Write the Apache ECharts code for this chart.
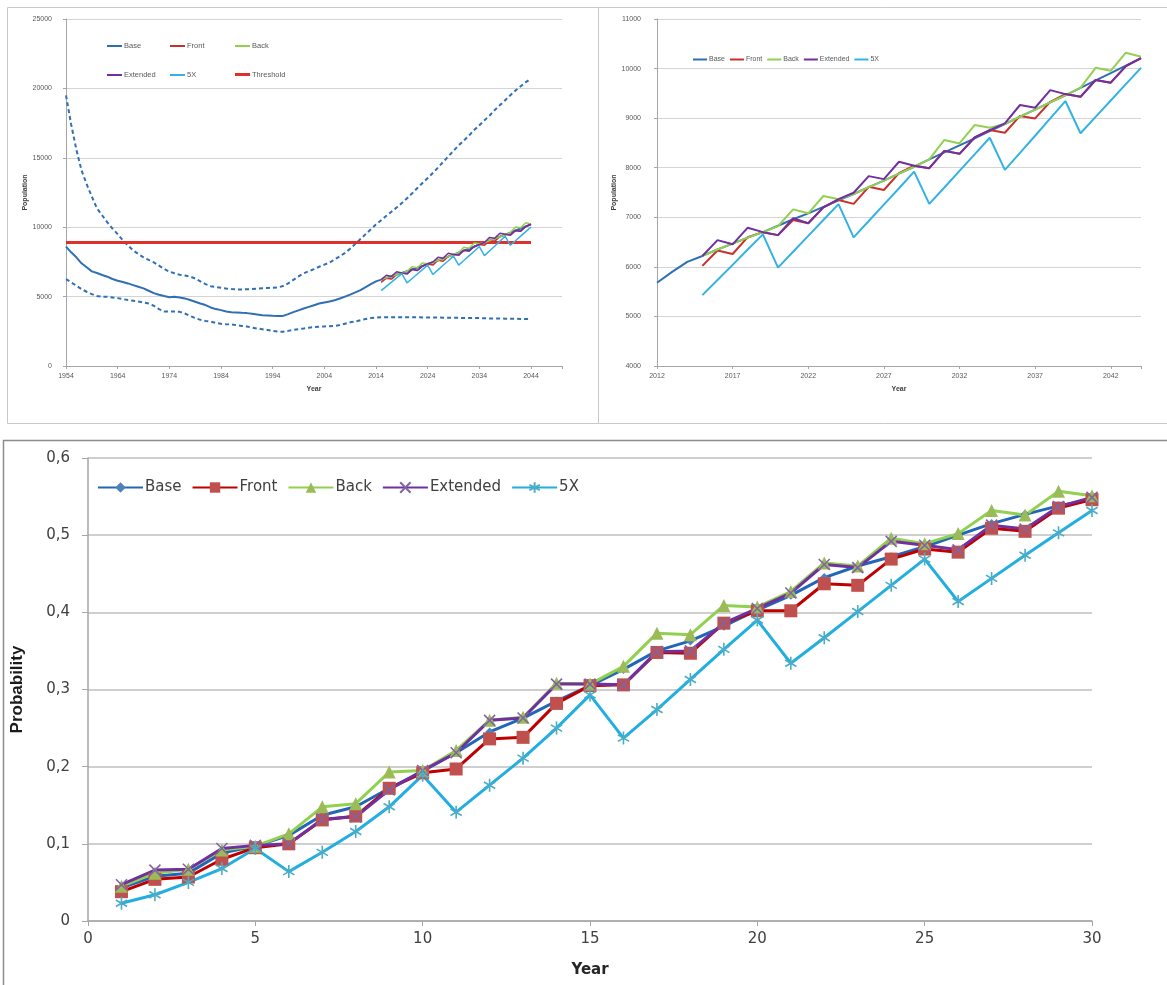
<!DOCTYPE html>
<html>
<head>
<meta charset="utf-8">
<script src="https://cdn.jsdelivr.net/npm/echarts@6/dist/echarts.min.js"></script>
<style>
  html, body { margin: 0; padding: 0; background: #ffffff; width: 1167px; height: 985px; overflow: hidden; }
  .layer { position: absolute; left: 0; top: 0; width: 1167px; height: 985px; }
</style>
</head>
<body>
<div id="history" class="layer"></div>
<div id="projection" class="layer"></div>
<div id="probability" class="layer"></div>
<script>
// ---------- Population history and projection (1954–2044) ----------
const HIST_START = 1954;      // first year of the long population series
const PROJ_START = 2015;      // first year of the scenario projections
const ZOOM_START = 2012;      // first year of the zoomed-in projection panel
const thresholdValue = 8900;

// Base population 1954–2011
const histBase = [
  8600, 8190, 7830, 7400, 7110, 6820, 6700, 6555, 6435, 6270,
  6145, 6050, 5950, 5830, 5710, 5590, 5420, 5250, 5130, 5040,
  4960, 4990, 4940, 4870, 4750, 4630, 4500, 4390, 4220, 4100,
  4025, 3930, 3880, 3860, 3830, 3810, 3760, 3710, 3660, 3640,
  3615, 3600, 3610, 3740, 3880, 4010, 4140, 4260, 4380, 4500,
  4580, 4650, 4740, 4860, 5000, 5140, 5300, 5470
];

// Upper confidence bound 1954–2044
const histUpper = [
  19500, 17400, 15600, 14100, 13100, 12200, 11350, 10850, 10350, 9900,
  9500, 9050, 8680, 8320, 8070, 7830, 7640, 7470, 7230, 6990,
  6800, 6680, 6580, 6520, 6450, 6300, 6100, 5900, 5750, 5680,
  5640, 5580, 5540, 5520, 5520, 5530, 5550, 5570, 5600, 5620,
  5640, 5660, 5760, 5950, 6200, 6450, 6680, 6830, 6980, 7150,
  7300, 7450, 7680, 7900, 8150, 8450, 8800, 9150, 9500, 9850,
  10200, 10500, 10820, 11120, 11420, 11740, 12080, 12440, 12820, 13180,
  13540, 13900, 14300, 14700, 15100, 15500, 15900, 16250, 16600, 17000,
  17350, 17700, 18050, 18450, 18800, 19150, 19500, 19850, 20150, 20450,
  20700
];

// Lower confidence bound 1954–2044
const histLower = [
  6265, 6025, 5785, 5540, 5350, 5180, 5040, 4990, 4990, 4940,
  4890, 4820, 4750, 4700, 4650, 4580, 4500, 4340, 4100, 3930,
  3930, 3930, 3900, 3780, 3615, 3450, 3325, 3250, 3200, 3110,
  3040, 3010, 2990, 2940, 2890, 2845, 2770, 2700, 2650, 2600,
  2530, 2480, 2460, 2530, 2600, 2650, 2700, 2760, 2800, 2820,
  2850, 2870, 2890, 2950, 3050, 3150, 3200, 3300, 3380, 3450,
  3500, 3510, 3520, 3520, 3520, 3520, 3520, 3510, 3510, 3500,
  3500, 3490, 3490, 3480, 3480, 3470, 3470, 3460, 3460, 3450,
  3450, 3440, 3430, 3430, 3420, 3410, 3410, 3400, 3390, 3390,
  3380
];

// Base projection 2012–2044
const projBase = [
  5680, 5900, 6100, 6220, 6350, 6470, 6590, 6700, 6830, 6960,
  7080, 7210, 7340, 7470, 7610, 7740, 7880, 8020, 8170, 8310,
  8450, 8590, 8740, 8880, 9030, 9170, 9320, 9460, 9610, 9760,
  9910, 10060, 10210
];

// Scenario projections 2015–2044
const projFront = [
  6020, 6330, 6260, 6600, 6700, 6640, 6945, 6880, 7200, 7350,
  7270, 7615, 7550, 7890, 8040, 7990, 8340, 8280, 8610, 8760,
  8705, 9045, 8995, 9330, 9485, 9430, 9770, 9715, 10050, 10210
];
const projBack = [
  6220, 6350, 6470, 6590, 6700, 6820, 7160, 7080, 7430, 7365,
  7470, 7610, 7740, 7880, 8020, 8170, 8560, 8490, 8860, 8805,
  8880, 9030, 9170, 9320, 9460, 9610, 10015, 9955, 10320, 10240
];
const projExtended = [
  6220, 6540, 6455, 6790, 6700, 6640, 6980, 6880, 7200, 7365,
  7495, 7830, 7770, 8120, 8040, 7990, 8340, 8280, 8610, 8760,
  8895, 9265, 9210, 9565, 9485, 9430, 9770, 9715, 10050, 10210
];
const proj5X = [
  5430, 5735, 6040, 6350, 6655, 5985, 6305, 6625, 6945, 7265,
  6595, 6925, 7255, 7585, 7920, 7270, 7600, 7935, 8270, 8605,
  7955, 8300, 8645, 8995, 9345, 8695, 9025, 9355, 9685, 10015
];

// ---------- Probability of exceeding the threshold, by year ----------
const probYears = [1, 2, 3, 4, 5, 6, 7, 8, 9, 10, 11, 12, 13, 14, 15,
                   16, 17, 18, 19, 20, 21, 22, 23, 24, 25, 26, 27, 28, 29, 30];
const probBase = [
  0.043, 0.058, 0.062, 0.088, 0.097, 0.111, 0.137, 0.148, 0.172, 0.194,
  0.218, 0.245, 0.263, 0.285, 0.305, 0.326, 0.350, 0.363, 0.382, 0.403,
  0.422, 0.445, 0.460, 0.472, 0.485, 0.500, 0.515, 0.527, 0.538, 0.546
];
const probFront = [
  0.038, 0.054, 0.057, 0.080, 0.095, 0.100, 0.131, 0.136, 0.172, 0.192,
  0.197, 0.236, 0.238, 0.282, 0.305, 0.306, 0.348, 0.347, 0.386, 0.402,
  0.402, 0.437, 0.435, 0.469, 0.482, 0.478, 0.509, 0.505, 0.535, 0.546
];
const probBack = [
  0.045, 0.062, 0.067, 0.092, 0.097, 0.113, 0.148, 0.152, 0.193, 0.195,
  0.221, 0.260, 0.264, 0.308, 0.307, 0.330, 0.373, 0.371, 0.409, 0.407,
  0.427, 0.464, 0.460, 0.496, 0.489, 0.502, 0.532, 0.526, 0.557, 0.551
];
const probExtended = [
  0.047, 0.066, 0.067, 0.094, 0.098, 0.100, 0.132, 0.135, 0.170, 0.195,
  0.218, 0.260, 0.263, 0.307, 0.307, 0.306, 0.349, 0.350, 0.386, 0.405,
  0.425, 0.462, 0.458, 0.492, 0.487, 0.481, 0.513, 0.508, 0.537, 0.549
];
const prob5X = [
  0.023, 0.034, 0.050, 0.068, 0.094, 0.064, 0.089, 0.116, 0.148, 0.189,
  0.141, 0.176, 0.211, 0.250, 0.293, 0.237, 0.274, 0.313, 0.352, 0.390,
  0.334, 0.367, 0.401, 0.435, 0.469, 0.414, 0.444, 0.474, 0.503, 0.532
];

// Year series are placed on an axis counted from its first labelled year
function pairs(values, firstYear, origin) {
  return values.map((v, i) => [firstYear + i - origin, v]);
}

const COL = {
  base: '#2F6FB4', front: '#C8302A', back: '#92D050', extended: '#7030A0', fiveX: '#33B2E3', threshold: '#E0302C'
};
const smallText = { fontFamily: 'Liberation Sans', fontSize: 7, color: '#595959' };
const grayAxis = { lineStyle: { color: '#A6A6A6', width: 1 } };
const plainNumber = v => String(v);

function plainLine(name, data, color, width, dash) {
  return {
    name: name, type: 'line', symbol: 'none', data: data, color: color,
    lineStyle: { color: color, width: width, type: dash || 'solid' }
  };
}

// ===== Panel 1: full history with bounds =====
const histChart = echarts.init(document.getElementById('history'), null, { renderer: 'canvas' });
const baseAll = histBase.concat(projBase);
function legendItem(name, left, top, height) {
  return {
    data: [name], left: left, top: top, padding: 0, icon: 'rect', itemWidth: 15, itemHeight: height || 2,
    textStyle: Object.assign({}, smallText, { fontSize: 7.5, padding: [0, 0, 0, -3] }),
    selectedMode: false
  };
}
histChart.setOption({
  animation: false,
  graphic: [
    { type: 'rect', shape: { x: 7.5, y: 7.5, width: 591, height: 416 },
      style: { fill: 'none', stroke: '#C9C9C9', lineWidth: 1 }, silent: true },
    { type: 'rect', shape: { x: 598.5, y: 7.5, width: 600, height: 416 },
      style: { fill: 'none', stroke: '#C9C9C9', lineWidth: 1 }, silent: true }
  ],
  legend: [
    legendItem('Base', 107, 42), legendItem('Front', 170, 42), legendItem('Back', 235, 42),
    legendItem('Extended', 107, 71), legendItem('5X', 170, 71), legendItem('Threshold', 235, 70.5, 3)
  ],
  grid: { left: 66, top: 19, width: 496, height: 347 },
  xAxis: {
    type: 'value', min: 0, max: 96, interval: 10,
    name: 'Year', nameLocation: 'middle', nameGap: 20,
    nameTextStyle: Object.assign({}, smallText, { fontWeight: 'bold', color: '#404040' }),
    axisLine: grayAxis, axisTick: { show: true, length: 3, lineStyle: { color: '#A6A6A6' } },
    axisLabel: Object.assign({}, smallText, { margin: 7, formatter: v => (v % 10 === 0 ? String(v + HIST_START) : '') }),
    splitLine: { show: false }
  },
  yAxis: {
    type: 'value', min: 0, max: 25000, interval: 5000,
    name: 'Population', nameLocation: 'middle', nameGap: 31,
    nameTextStyle: Object.assign({}, smallText, { fontWeight: 'bold', color: '#404040' }),
    axisLine: Object.assign({ show: true }, grayAxis), axisTick: { show: true, length: 3, lineStyle: { color: '#A6A6A6' } },
    axisLabel: Object.assign({}, smallText, { margin: 14, formatter: plainNumber }),
    splitLine: { lineStyle: { color: '#D4D4D4', width: 1 } }
  },
  series: [
    plainLine('Upper bound', pairs(histUpper, HIST_START, HIST_START), COL.base, 2, [4, 3]),
    plainLine('Lower bound', pairs(histLower, HIST_START, HIST_START), COL.base, 2, [4, 3]),
    plainLine('Base', pairs(baseAll, HIST_START, HIST_START), COL.base, 2),
    plainLine('Threshold', [[0, thresholdValue], [2044 - HIST_START, thresholdValue]], COL.threshold, 3),
    plainLine('Front', pairs(projFront, PROJ_START, HIST_START), COL.front, 1.5),
    plainLine('Back', pairs(projBack, PROJ_START, HIST_START), COL.back, 1.5),
    plainLine('Extended', pairs(projExtended, PROJ_START, HIST_START), COL.extended, 1.5),
    plainLine('5X', pairs(proj5X, PROJ_START, HIST_START), COL.fiveX, 1.5)
  ]
});

// ===== Panel 2: projections 2012–2044 =====
const projChart = echarts.init(document.getElementById('projection'), null, { renderer: 'canvas' });
projChart.setOption({
  animation: false,
  legend: {
    data: ['Base', 'Front', 'Back', 'Extended', '5X'], left: 693, top: 56, padding: 0,
    icon: 'rect', itemWidth: 14, itemHeight: 2, itemGap: 5, selectedMode: false,
    textStyle: Object.assign({}, smallText, { padding: [0, 0, 0, -3] })
  },
  grid: { left: 657, top: 19, width: 484, height: 347 },
  xAxis: {
    type: 'value', min: 0, max: 32, interval: 5,
    name: 'Year', nameLocation: 'middle', nameGap: 20,
    nameTextStyle: Object.assign({}, smallText, { fontWeight: 'bold', color: '#404040' }),
    axisLine: grayAxis, axisTick: { show: true, length: 3, lineStyle: { color: '#A6A6A6' } },
    axisLabel: Object.assign({}, smallText, { margin: 7, formatter: v => (v % 5 === 0 ? String(v + ZOOM_START) : '') }),
    splitLine: { show: false }
  },
  yAxis: {
    type: 'value', min: 4000, max: 11000, interval: 1000,
    name: 'Population', nameLocation: 'middle', nameGap: 32,
    nameTextStyle: Object.assign({}, smallText, { fontWeight: 'bold', color: '#404040' }),
    axisLine: Object.assign({ show: true }, grayAxis), axisTick: { show: true, length: 3, lineStyle: { color: '#A6A6A6' } },
    axisLabel: Object.assign({}, smallText, { margin: 16, formatter: plainNumber }),
    splitLine: { lineStyle: { color: '#D4D4D4', width: 1 } }
  },
  series: [
    plainLine('Base', pairs(projBase, ZOOM_START, ZOOM_START), COL.base, 2),
    plainLine('Front', pairs(projFront, PROJ_START, ZOOM_START), COL.front, 2),
    plainLine('Back', pairs(projBack, PROJ_START, ZOOM_START), COL.back, 2),
    plainLine('Extended', pairs(projExtended, PROJ_START, ZOOM_START), COL.extended, 2),
    plainLine('5X', pairs(proj5X, PROJ_START, ZOOM_START), COL.fiveX, 2)
  ]
});

// ===== Panel 3: probability by year =====
const probChart = echarts.init(document.getElementById('probability'), null, { renderer: 'canvas' });
const bigText = { fontFamily: 'DejaVu Sans', fontSize: 15, color: '#404040' };
const crossPath = 'path://M0 0 L10 10 M0 10 L10 0';
const starPath = 'path://M5 0 L5 10 M0.67 2.5 L9.33 7.5 M0.67 7.5 L9.33 2.5';
function probSeries(name, values, lineColor, markColor, symbol, size, stroked) {
  return {
    name: name, type: 'line', data: values.map((v, i) => [probYears[i], v]),
    symbol: symbol, symbolSize: size, symbolKeepAspect: true, showSymbol: true,
    color: lineColor,
    lineStyle: { color: lineColor, width: 3 },
    itemStyle: stroked
      ? { color: 'rgba(0,0,0,0)', borderColor: markColor, borderWidth: 1.6 }
      : { color: markColor, borderWidth: 0 }
  };
}
probChart.setOption({
  animation: false,
  graphic: [
    { type: 'polyline', shape: { points: [[3.5, 985], [3.5, 440.5], [1167, 440.5]] },
      style: { fill: 'none', stroke: '#8C8C8C', lineWidth: 1.5 }, silent: true }
  ],
  legend: {
    data: ['Base', 'Front', 'Back', 'Extended', '5X'], left: 97, top: 480, padding: 0,
    itemWidth: 45, itemHeight: 13, itemGap: 10, selectedMode: false,
    textStyle: Object.assign({}, bigText, { padding: [0, 0, 0, -3] })
  },
  grid: { left: 88, top: 458, width: 1004, height: 463 },
  xAxis: {
    type: 'value', min: 0, max: 30, interval: 5,
    name: 'Year', nameLocation: 'middle', nameGap: 42,
    nameTextStyle: { fontFamily: 'DejaVu Sans', fontSize: 15, fontWeight: 'bold', color: '#262626' },
    axisLine: { lineStyle: { color: '#A6A6A6', width: 1.5 } },
    axisTick: { show: true, length: 5, lineStyle: { color: '#A6A6A6' } },
    axisLabel: Object.assign({}, bigText, { margin: 11 }),
    splitLine: { show: false }
  },
  yAxis: {
    type: 'value', min: 0, max: 0.6, interval: 0.1,
    name: 'Probability', nameLocation: 'middle', nameGap: 62,
    nameTextStyle: { fontFamily: 'Liberation Sans Narrow, Liberation Sans', fontSize: 17, fontWeight: 'bold', color: '#1a1a1a' },
    axisLine: { show: true, lineStyle: { color: '#A6A6A6', width: 1.5 } },
    axisTick: { show: true, length: 6, lineStyle: { color: '#A6A6A6' } },
    axisLabel: Object.assign({}, bigText, {
      margin: 18,
      formatter: v => (v === 0 ? '0' : v.toFixed(1).replace('.', ','))
    }),
    splitLine: { lineStyle: { color: '#BFBFBF', width: 1.5 } }
  },
  series: [
    probSeries('Base', probBase, '#2266B8', '#4F81BD', 'diamond', 9, false),
    probSeries('Front', probFront, '#C00000', '#C0504D', 'rect', 13, false),
    probSeries('Back', probBack, '#92D050', '#9BBB59', 'triangle', 13, false),
    probSeries('Extended', probExtended, '#7030A0', '#8064A2', crossPath, 11, true),
    probSeries('5X', prob5X, '#22AEE0', '#4BACC6', starPath, 13, true)
  ]
});
</script>
</body>
</html>
